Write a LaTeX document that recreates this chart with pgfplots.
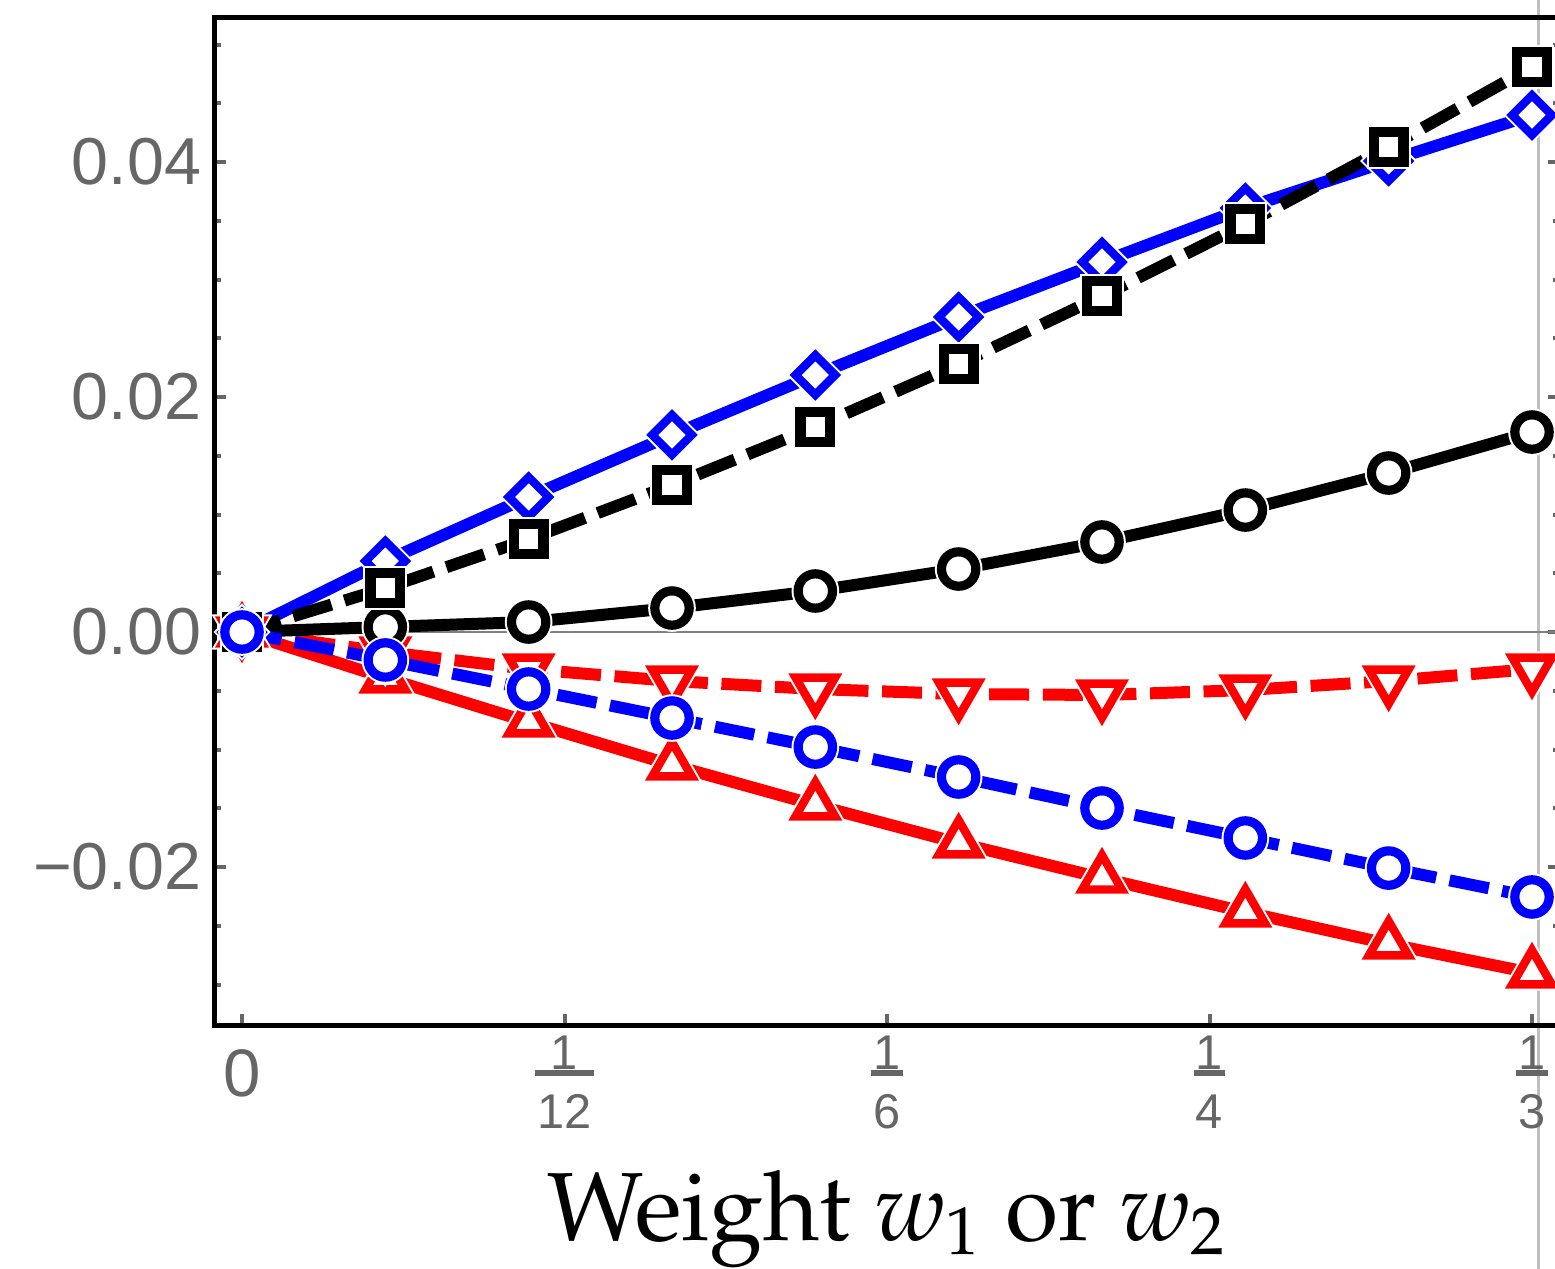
\documentclass[border=0pt]{standalone}
\usepackage{pgfplots}
\pgfplotsset{compat=1.18}
\usepackage{pgfplotstable}
\usepackage{fontspec}
\usepackage[T1,TU]{fontenc}
\newfontfamily\tickfont{Liberation Sans}

\definecolor{tickgray}{HTML}{666666}
\definecolor{zgray}{HTML}{808080}
\definecolor{vgray}{HTML}{BEBEBE}

% tick labels: "0" and the fractions share one reference line (the fraction bar)
\newcommand{\zero}{\tickfont\makebox[0pt]{\raisebox{-5.8pt}{\fontsize{16.8}{16.8}\selectfont 0}}}
\newcommand{\fr}[2]{\tickfont\fontsize{12.2}{12.2}\selectfont
  \makebox[0pt]{\raisebox{1pt}{#1}}%
  \makebox[0pt]{\setbox0\hbox{#2}\rule[-0.65pt]{\dimexpr\wd0+1pt\relax}{1.3pt}}%
  \makebox[0pt]{\raisebox{-13.75pt}{#2}}}

% line, white halo, open marker
\newcommand{\series}[7]{%
  \addplot[#2, line width=3pt, line join=round, #3, no markers] table[x=x,y=y] {#1};
  \addplot[only marks, mark=#4, mark size=#5, mark options={#6, solid, draw=white, fill=white, line width=#7+1pt}] table[x=x,y=y] {#1};
  \addplot[only marks, mark=#4, mark size=#5, mark options={#6, solid, draw=#2, fill=white, line width=#7}] table[x=x,y=y] {#1};
}

\pgfplotstableread{
x y
0        0
0.037037 -0.00391
0.074074 -0.00766
0.111111 -0.01132
0.148148 -0.01472
0.185185 -0.01796
0.222222 -0.02094
0.259259 -0.02383
0.296296 -0.02655
0.333333 -0.02902
}\redup

\pgfplotstableread{
x y
0        0
0.037037 -0.00170
0.074074 -0.00315
0.111111 -0.00417
0.148148 -0.00485
0.185185 -0.00528
0.222222 -0.00536
0.259259 -0.00494
0.296296 -0.00417
0.333333 -0.00315
}\reddown

\pgfplotstableread{
x y
0        0
0.037037 0.00043
0.074074 0.00085
0.111111 0.00204
0.148148 0.00349
0.185185 0.00536
0.222222 0.00766
0.259259 0.01038
0.296296 0.01353
0.333333 0.01702
}\blackcirc

\pgfplotstableread{
x y
0        0
0.037037 0.00604
0.074074 0.01149
0.111111 0.01677
0.148148 0.02187
0.185185 0.02681
0.222222 0.03149
0.259259 0.03609
0.296296 0.04009
0.333333 0.04400
}\bluediam

\pgfplotstableread{
x y
0        0
0.037037 0.00374
0.074074 0.00791
0.111111 0.01251
0.148148 0.01745
0.185185 0.02281
0.222222 0.02860
0.259259 0.03472
0.296296 0.04128
0.333333 0.04809
}\blacksq

\pgfplotstableread{
x y
0        0
0.037037 -0.00238
0.074074 -0.00485
0.111111 -0.00732
0.148148 -0.00979
0.185185 -0.01234
0.222222 -0.01498
0.259259 -0.01753
0.296296 -0.02009
0.333333 -0.02255
}\bluecirc

\begin{document}
\begin{tikzpicture}
% thin grey vertical rule at the right edge of the crop
\draw[vgray, line width=0.75pt] (330.75pt,-61pt) -- (330.75pt,257pt);

\begin{axis}[
  scale only axis, width=336pt, height=252pt,
  xmin=-0.006977, xmax=0.34031,
  ymin=-0.033447, ymax=0.052340,
  axis line style={line width=1.25pt, black},
  tick align=inside,
  xtick pos=left, ytick pos=both,
  xtick={0,0.0833333,0.1666667,0.25,0.3333333},
  xticklabels={\zero,\fr{1}{12},\fr{1}{6},\fr{1}{4},\fr{1}{3}},
  ytick={-0.02,0,0.02,0.04},
  yticklabels={−0.02,0.00,0.02,0.04},
  minor ytick={-0.03,-0.025,-0.015,-0.01,-0.005,0.005,0.01,0.015,0.025,0.03,0.035,0.045,0.05},
  major tick length=2.75pt, minor tick length=1.5pt,
  tick style={line width=1pt, tickgray},
  xticklabel style={anchor=base, inner sep=0pt, yshift=-12pt, text=tickgray},
  yticklabel style={anchor=east, inner sep=0pt, xshift=-3.25pt, text=tickgray,
    font=\tickfont\fontsize{16.6}{16.6}\selectfont},
  xlabel={\fontencoding{T1}\fontfamily{ppl}\fontsize{24.2}{28}\selectfont Weight \textit{w}\textsubscript{1} or \textit{w}\textsubscript{2}},
  xlabel style={at={(axis description cs:0.5,0)}, anchor=base, yshift=-53.75pt, inner sep=0pt},
  clip=false,
]
\addplot[zgray, line width=0.4pt] coordinates {(-0.006977,0) (0.34031,0)};

\series{\redup}{red}{solid}{triangle*}{5.7pt}{rotate=0}{2.1pt}
\series{\reddown}{red}{dash pattern=on 10pt off 3.4pt}{triangle*}{5.7pt}{rotate=180}{2.1pt}
\series{\blackcirc}{black}{solid}{*}{4.3pt}{rotate=0}{2.3pt}
\series{\bluediam}{blue}{solid}{square*}{3.5pt}{rotate=45}{2.1pt}
\series{\blacksq}{black}{dash pattern=on 10pt off 3.4pt}{square*}{3.7pt}{rotate=0}{2.6pt}
\series{\bluecirc}{blue}{dash pattern=on 10pt off 3.4pt}{*}{4.3pt}{rotate=0}{2.3pt}
\end{axis}

\pgfresetboundingbox
\useasboundingbox (-53.75pt,-60.75pt) rectangle (335pt,256.25pt);
\end{tikzpicture}
\end{document}
